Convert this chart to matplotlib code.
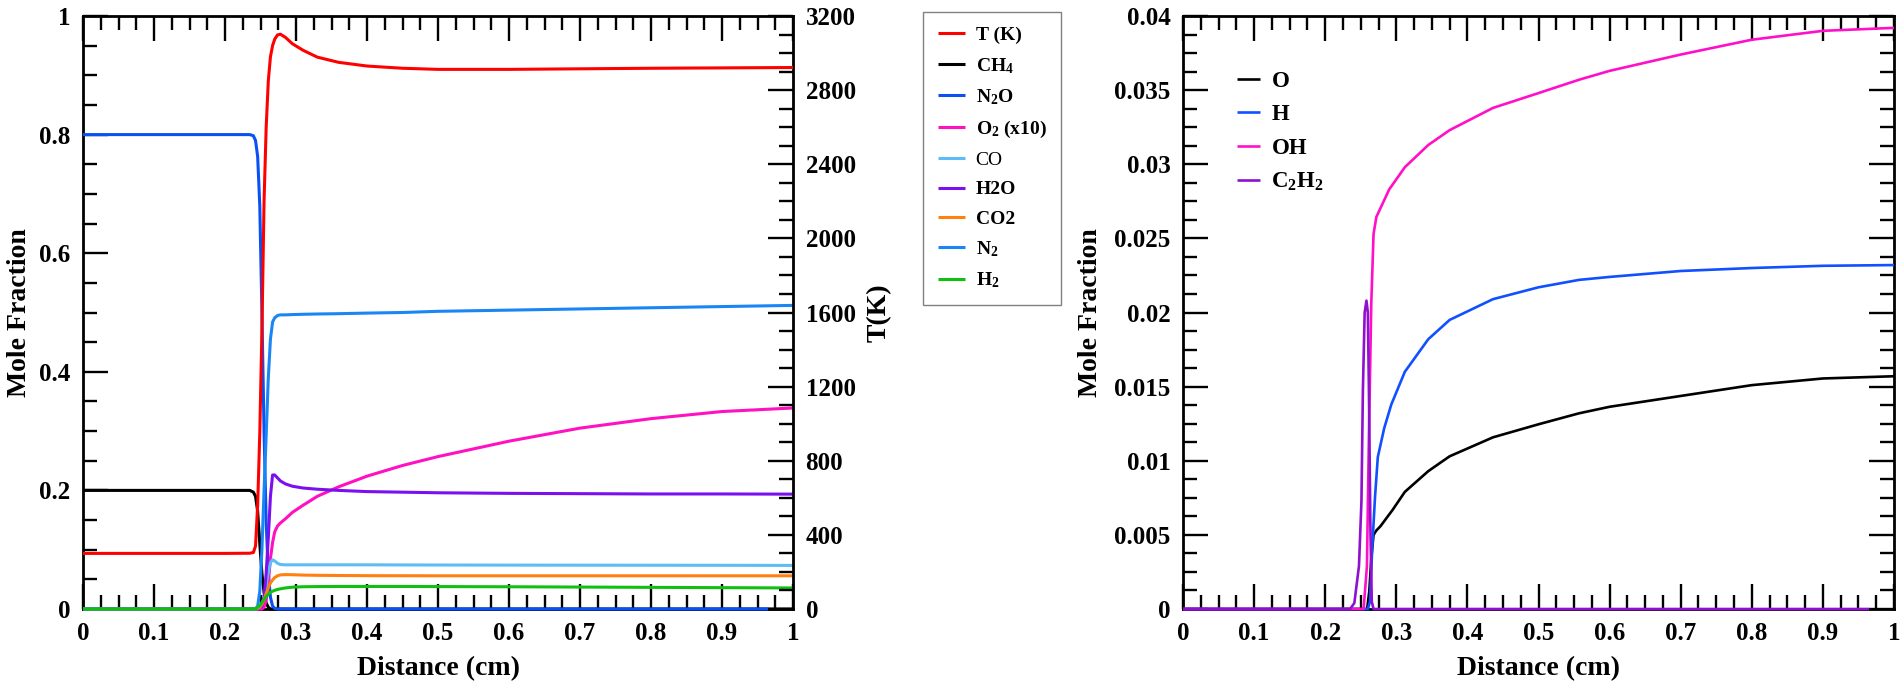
import matplotlib
matplotlib.use('Agg')
import matplotlib.pyplot as plt
from matplotlib.ticker import MultipleLocator, FuncFormatter

plt.rcParams['font.family'] = ['Liberation Serif', 'DejaVu Serif']
plt.rcParams['font.weight'] = 'bold'
plt.rcParams['axes.labelweight'] = 'bold'
plt.rcParams['mathtext.fontset'] = 'custom'
plt.rcParams['mathtext.rm'] = 'Liberation Serif:bold'
plt.rcParams['mathtext.bf'] = 'Liberation Serif:bold'
plt.rcParams['mathtext.it'] = 'Liberation Serif:bold'

# flame profile: main species and temperature
x = [0, 0.1, 0.2, 0.235, 0.24, 0.243, 0.246, 0.249, 0.252, 0.255, 0.258, 0.261, 0.264, 0.267,
     0.27, 0.274, 0.278, 0.285, 0.295, 0.31, 0.33, 0.36, 0.4, 0.45, 0.5, 0.6, 0.7, 0.8, 0.9, 1.0]
temp = [300, 300, 300, 301, 305, 340, 560, 950, 1500, 2200, 2600, 2850, 2980, 3040,
        3075, 3098, 3102, 3085, 3050, 3015, 2978, 2950, 2930, 2918, 2912, 2912, 2915, 2918, 2920, 2922]
ch4 = [0.2, 0.2, 0.2, 0.2, 0.197, 0.19, 0.165, 0.11, 0.06, 0.028, 0.01, 0.003, 0, 0,
       0, 0, 0, 0, 0, 0, 0, 0, 0, 0, 0, 0, 0, 0, 0, 0]
n2o = [0.8, 0.8, 0.8, 0.8, 0.798, 0.79, 0.763, 0.68, 0.5, 0.3, 0.146, 0.06, 0.02, 0.005,
       0.001, 0, 0, 0, 0, 0, 0, 0, 0, 0, 0, 0, 0, 0, 0, 0]
o2_x10 = [0, 0, 0, 0, 0, 0, 0, 0, 0, 0.003, 0.015, 0.045, 0.085, 0.112,
          0.13, 0.14, 0.145, 0.152, 0.163, 0.175, 0.19, 0.206, 0.224, 0.242, 0.257, 0.283, 0.305, 0.321, 0.333, 0.339]
co = [0, 0, 0, 0, 0, 0, 0, 0.002, 0.008, 0.02, 0.04, 0.062, 0.078, 0.083,
      0.081, 0.077, 0.075, 0.0745, 0.0745, 0.0745, 0.0745, 0.0745, 0.0745, 0.0743, 0.0742, 0.074, 0.0739, 0.0738, 0.0737, 0.0735]
h2o = [0, 0, 0, 0, 0, 0, 0, 0.002, 0.005, 0.02, 0.06, 0.12, 0.19, 0.226,
       0.226, 0.221, 0.216, 0.211, 0.207, 0.204, 0.202, 0.2, 0.198, 0.197, 0.196, 0.195, 0.1945, 0.194, 0.194, 0.1937]
co2 = [0, 0, 0, 0, 0, 0, 0.001, 0.003, 0.008, 0.016, 0.026, 0.036, 0.044, 0.049,
       0.053, 0.056, 0.0575, 0.058, 0.0578, 0.0572, 0.0568, 0.0565, 0.0562, 0.0561, 0.056, 0.056, 0.056, 0.056, 0.056, 0.056]
n2 = [0, 0, 0, 0, 0, 0, 0.005, 0.03, 0.1, 0.2, 0.293, 0.39, 0.455, 0.484,
      0.491, 0.495, 0.496, 0.496, 0.4965, 0.497, 0.4975, 0.498, 0.499, 0.5, 0.502, 0.504, 0.506, 0.508, 0.51, 0.512]
h2 = [0, 0, 0, 0, 0, 0.001, 0.003, 0.006, 0.011, 0.016, 0.021, 0.025, 0.028, 0.03,
      0.0315, 0.033, 0.034, 0.0355, 0.0368, 0.0375, 0.0378, 0.038, 0.038, 0.038, 0.0378, 0.0375, 0.037, 0.0365, 0.036, 0.0355]

# radicals
x_o = [0, 0.259, 0.262, 0.265, 0.268, 0.272, 0.278, 0.295, 0.312, 0.345, 0.375, 0.436,
       0.5, 0.557, 0.6, 0.7, 0.8, 0.9, 1.0]
o = [0, 0, 0.0012, 0.0035, 0.005, 0.0053, 0.0056, 0.0067, 0.0079, 0.0093, 0.0103, 0.01158,
     0.01246, 0.0132, 0.01364, 0.01437, 0.0151, 0.01555, 0.0157]
x_h = [0, 0.26, 0.263, 0.266, 0.27, 0.274, 0.283, 0.293, 0.312, 0.345, 0.375, 0.436,
       0.5, 0.557, 0.6, 0.7, 0.8, 0.9, 1.0]
h = [0, 0, 0.0005, 0.004, 0.0075, 0.01025, 0.0122, 0.0138, 0.016, 0.0182, 0.0195, 0.0209,
     0.0217, 0.0222, 0.0224, 0.0228, 0.023, 0.02315, 0.0232]
x_oh = [0, 0.254, 0.2587, 0.2615, 0.2648, 0.268, 0.272, 0.29, 0.312, 0.345, 0.375, 0.436,
        0.5, 0.557, 0.6, 0.7, 0.8, 0.9, 1.0]
oh = [0, 0, 0.0029, 0.0117, 0.0206, 0.0253, 0.02645, 0.0283, 0.0298, 0.0313, 0.0323, 0.0338,
      0.0348, 0.0357, 0.0363, 0.0374, 0.0384, 0.039, 0.0392]
x_c2h2 = [0, 0.235, 0.241, 0.2475, 0.251, 0.253, 0.2555, 0.258, 0.26, 0.2615, 0.2635, 0.2655, 0.268, 0.965]
c2h2 = [0, 0, 0.0004, 0.0029, 0.0073, 0.0147, 0.02, 0.0208, 0.02, 0.0147, 0.0058, 0.0005, 0, 0]

fmt = FuncFormatter(lambda v, p: f'{v:g}')
tick_kw = dict(which='both', direction='in', width=1.7, labelsize=18, pad=9)


def style(a):
    for s in a.spines.values():
        s.set_linewidth(2)
    a.tick_params(which='major', length=18)
    a.tick_params(which='minor', length=10)


def bold_ticks(a):
    for lbl in a.get_xticklabels() + a.get_yticklabels():
        lbl.set_fontweight('bold')


fig = plt.figure(figsize=(19.01, 6.83), dpi=100)
ax = fig.add_axes([83 / 1901, 74 / 683, 710 / 1901, 593 / 683])
ax2 = ax.twinx()

lw = 2.2
line_kw = dict(lw=lw, clip_on=False, zorder=3, solid_capstyle='butt')
l_ch4, = ax.plot(x, ch4, color='black', **line_kw)
l_n2o, = ax.plot(x[:-1] + [0.965], n2o, color='#0a50f5', **line_kw)
l_o2, = ax.plot(x, o2_x10, color='#ff10c0', **line_kw)
l_co, = ax.plot(x, co, color='#5cbcf5', **line_kw)
l_h2o, = ax.plot(x, h2o, color='#7a10f0', **line_kw)
l_co2, = ax.plot(x, co2, color='#ff8010', **line_kw)
l_n2, = ax.plot(x, n2, color='#1a86f5', **line_kw)
l_h2, = ax.plot(x, h2, color='#10c010', **line_kw)
l_t, = ax2.plot(x, temp, color='#ff0000', **line_kw)

ax.set_xlim(0, 1)
ax.set_ylim(0, 1)
ax2.set_ylim(0, 3200)
ax.xaxis.set_major_locator(MultipleLocator(0.1))
ax.xaxis.set_minor_locator(MultipleLocator(0.025))
ax.yaxis.set_major_locator(MultipleLocator(0.2))
ax.yaxis.set_minor_locator(MultipleLocator(0.05))
ax2.yaxis.set_major_locator(MultipleLocator(400))
ax2.yaxis.set_minor_locator(MultipleLocator(100))
ax.xaxis.set_major_formatter(fmt)
ax.yaxis.set_major_formatter(fmt)
ax2.yaxis.set_major_formatter(fmt)
ax.tick_params(top=True, right=False, **tick_kw)
ax2.tick_params(**tick_kw)
style(ax)
style(ax2)
bold_ticks(ax)
bold_ticks(ax2)
ax.spines['right'].set_visible(False)
for s in ['top', 'bottom', 'left']:
    ax2.spines[s].set_visible(False)
ax.set_xlabel('Distance (cm)', fontsize=20, labelpad=8)
ax.set_ylabel('Mole Fraction', fontsize=20, labelpad=5)
ax2.set_ylabel('T(K)', fontsize=20, labelpad=8)

handles = [l_t, l_ch4, l_n2o, l_o2, l_co, l_h2o, l_co2, l_n2, l_h2]
labels = ['T (K)', 'CH$_4$', 'N$_2$O', 'O$_2$ (x10)', 'CO', 'H2O', 'CO2', 'N$_2$', 'H$_2$']
leg = fig.legend(handles, labels, loc='upper left', bbox_to_anchor=(923 / 1901, 1 - 12 / 683),
                 fontsize=14, frameon=True, fancybox=False, edgecolor='#808080', framealpha=1,
                 handlelength=1.4, handletextpad=0.55, labelspacing=0.6, borderpad=0.75,
                 borderaxespad=0)
leg.get_frame().set_linewidth(1)
leg.get_texts()[4].set_fontweight('normal')

# radicals panel
bx = fig.add_axes([1183 / 1901, 74 / 683, 711 / 1901, 593 / 683])
rlw = 1.9
rline_kw = dict(lw=rlw, clip_on=False, zorder=3, solid_capstyle='butt')
bx.plot(x_o, o, color='black', label='O', **rline_kw)
bx.plot(x_h, h, color='#1050ff', label='H', **rline_kw)
bx.plot(x_oh, oh, color='#ff10c8', label='OH', **rline_kw)
bx.plot(x_c2h2, c2h2, color='#9010d0', label='C$_2$H$_2$', **rline_kw)
bx.set_xlim(0, 1)
bx.set_ylim(0, 0.04)
bx.xaxis.set_major_locator(MultipleLocator(0.1))
bx.xaxis.set_minor_locator(MultipleLocator(0.025))
bx.yaxis.set_major_locator(MultipleLocator(0.005))
bx.yaxis.set_minor_locator(MultipleLocator(0.00125))
bx.xaxis.set_major_formatter(fmt)
bx.yaxis.set_major_formatter(fmt)
bx.tick_params(top=True, right=True, **tick_kw)
style(bx)
bold_ticks(bx)
bx.set_xlabel('Distance (cm)', fontsize=20, labelpad=8)
bx.set_ylabel('Mole Fraction', fontsize=20, labelpad=8)
bx.legend(loc='upper left', bbox_to_anchor=(0.076, 0.907), frameon=False, fontsize=16.5,
          handlelength=1.0, handletextpad=0.5, labelspacing=0.53, borderpad=0, borderaxespad=0)

fig.savefig('out.png', dpi=100)
